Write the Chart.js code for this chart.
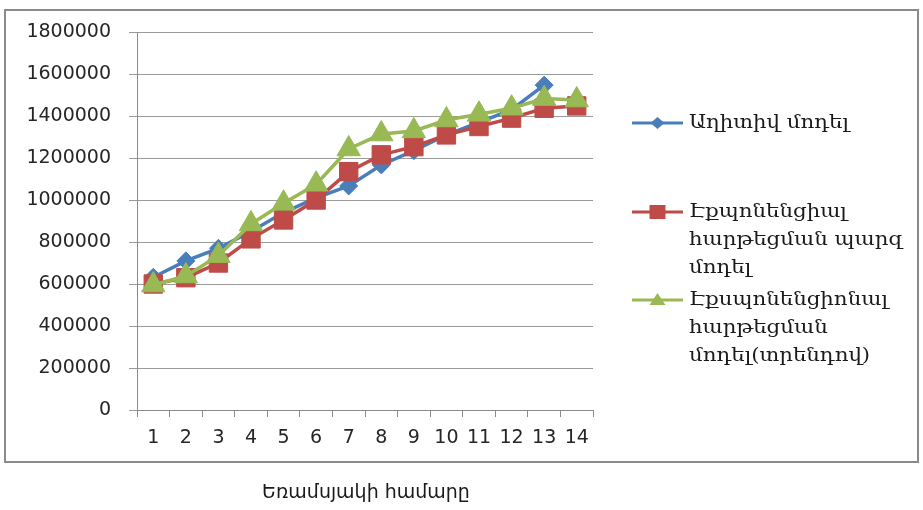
<!DOCTYPE html>
<html>
<head>
<meta charset="utf-8">
<script src="https://cdn.jsdelivr.net/npm/chart.js@4/dist/chart.umd.min.js"></script>
<style>
html,body{margin:0;padding:0;background:#fff;}
#wrap{position:relative;width:923px;height:510px;}
</style>
</head>
<body>
<div id="wrap"><canvas id="c" width="923" height="510"></canvas></div>
<script>
const categories = ['1','2','3','4','5','6','7','8','9','10','11','12','13','14'];
const additive = [632000, 710000, 770000, 850000, 940000, 1010000, 1067000, 1167000, 1235000, 1310000, 1370000, 1430000, 1547000, null];
const expSimple = [600000, 630000, 700000, 815000, 905000, 1000000, 1135000, 1215000, 1254000, 1310000, 1350000, 1390000, 1437000, 1448000];
const expTrend = [595000, 638000, 735000, 886000, 984000, 1075000, 1243000, 1314000, 1329000, 1381000, 1408000, 1437000, 1483000, 1476000];
const yTicks = [0, 200000, 400000, 600000, 800000, 1000000, 1200000, 1400000, 1600000, 1800000];
const seriesNames = [
  ['Աղիտիվ մոդել'],
  ['Էքպոնենցիալ', 'հարթեցման պարզ', 'մոդել'],
  ['Էքսպոնենցիոնալ', 'հարթեցման', 'մոդել(տրենդով)']
];
const xTitle = 'Եռամսյակի համարը';

const BLUE = '#4A7EBB', RED = '#BE4B48', GREEN = '#98B954';

const decor = {
  id: 'decor',
  beforeDraw(chart) {
    const ctx = chart.ctx;
    ctx.save();
    ctx.fillStyle = '#fff';
    ctx.fillRect(0, 0, chart.width, chart.height);
    ctx.strokeStyle = '#8a8a8a';
    ctx.lineWidth = 2;
    ctx.strokeRect(5, 10, 913, 452);
    ctx.restore();
  },
  afterDraw(chart) {
    const ctx = chart.ctx;
    ctx.save();
    // x title
    ctx.fillStyle = '#1a1a1a';
    ctx.font = '19px "DejaVu Sans"';
    ctx.textAlign = 'center';
    ctx.textBaseline = 'middle';
    ctx.fillText(xTitle, 366, 493);
    // legend
    const entries = [
      {y: 123, shape: 'diamond'},
      {y: 212, shape: 'square'},
      {y: 300, shape: 'triangle'}
    ];
    ctx.textAlign = 'left';
    entries.forEach((e, i) => {
      const ds = chart.data.datasets[i];
      ctx.strokeStyle = ds.borderColor;
      ctx.fillStyle = ds.backgroundColor;
      ctx.lineWidth = 3;
      ctx.beginPath();
      ctx.moveTo(632, e.y);
      ctx.lineTo(683, e.y);
      ctx.stroke();
      const cx = 657.5, cy = e.y;
      ctx.beginPath();
      if (e.shape === 'diamond') {
        ctx.moveTo(cx, cy - 6); ctx.lineTo(cx + 7, cy); ctx.lineTo(cx, cy + 6); ctx.lineTo(cx - 7, cy); ctx.closePath();
      } else if (e.shape === 'square') {
        ctx.rect(cx - 8, cy - 7, 16, 14);
      } else {
        ctx.moveTo(cx, cy - 7); ctx.lineTo(cx + 8, cy + 5); ctx.lineTo(cx - 8, cy + 5); ctx.closePath();
      }
      ctx.fill();
      ctx.fillStyle = '#1a1a1a';
      ctx.font = '19px "DejaVu Serif", "DejaVu Sans"';
      seriesNames[i].forEach((line, k) => {
        ctx.save();
        ctx.translate(689, e.y + k * 28);
        ctx.scale(1.12, 1);
        ctx.fillText(line, 0, 0);
        ctx.restore();
      });
    });
    ctx.restore();
  }
};

new Chart(document.getElementById('c'), {
  type: 'line',
  data: {
    labels: categories,
    datasets: [
      {label: seriesNames[0].join(' '), data: additive, borderColor: BLUE, backgroundColor: BLUE, order: 3,
       borderWidth: 3.5, pointStyle: 'rectRot', pointRadius: 9, pointBorderWidth: 1, tension: 0},
      {label: seriesNames[1].join(' '), data: expSimple, borderColor: RED, backgroundColor: RED, order: 2,
       borderWidth: 3.5, pointStyle: 'rect', pointRadius: 13, pointBorderWidth: 1, tension: 0},
      {label: seriesNames[2].join(' '), data: expTrend, borderColor: GREEN, backgroundColor: GREEN, order: 1,
       borderWidth: 3.5, pointStyle: 'triangle', pointRadius: 13.5, pointBorderWidth: 1, tension: 0}
    ]
  },
  options: {
    responsive: false,
    animation: false,
    spanGaps: false,
    layout: {padding: {left: 0, top: 32, right: 330, bottom: 0}},
    plugins: {legend: {display: false}, tooltip: {enabled: false}, title: {display: false}},
    scales: {
      x: {
        type: 'category',
        offset: true,
        grid: {display: true, drawOnChartArea: false, drawTicks: true, tickLength: 7, offset: true, color: '#8a8a8a'},
        border: {display: true, color: '#8a8a8a', width: 1},
        ticks: {color: '#262626', font: {family: '"DejaVu Sans"', size: 19}, padding: 10, maxRotation: 0, autoSkip: false},
        afterFit(s) { s.height = 100; }
      },
      y: {
        min: 0, max: 1800000,
        afterBuildTicks(s) { s.ticks = yTicks.map(v => ({value: v})); },
        grid: {color: '#9a9a9a', tickLength: 8, drawTicks: true},
        border: {display: true, color: '#8a8a8a', width: 1},
        ticks: {color: '#262626', font: {family: '"DejaVu Sans"', size: 19}, padding: 18,
                callback: v => String(v)},
        afterFit(s) { s.width = 137; }
      }
    }
  },
  plugins: [decor]
});
</script>
</body>
</html>
